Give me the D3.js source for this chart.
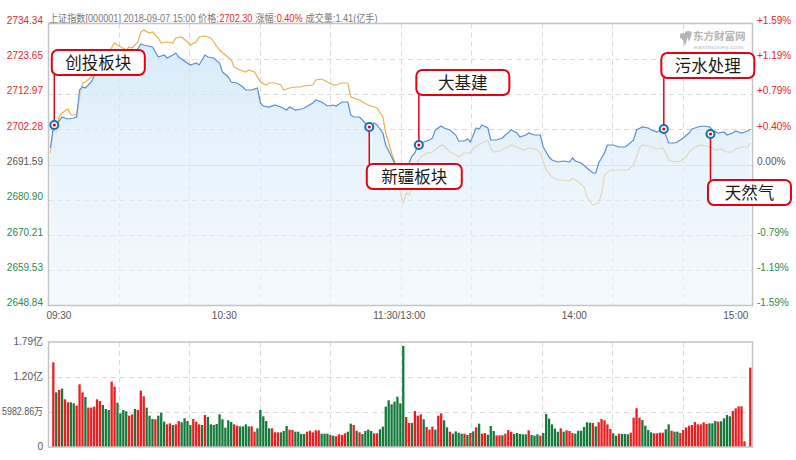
<!DOCTYPE html>
<html><head><meta charset="utf-8">
<script src="https://cdn.jsdelivr.net/npm/d3@7/dist/d3.min.js"></script>
<style>body{margin:0;background:#fff;}svg{display:block;font-family:"Liberation Sans",Arial,"Noto Sans CJK SC",sans-serif;}</style>
</head><body>
<svg id="c" width="796" height="460"></svg>
<script>
// ---------- data ----------
const prevClose = 2691.59;
const priceTicks = [2734.34, 2723.65, 2712.97, 2702.28, 2691.59, 2680.90, 2670.21, 2659.53, 2648.84];
const pctLabels  = ["+1.59%", "+1.19%", "+0.79%", "+0.40%", "0.00%", "", "-0.79%", "-1.19%", "-1.59%"];
const timeIdx    = [0, 60, 120, 180, 240];
const timeText   = ["09:30", "10:30", "11:30/13:00", "14:00", "15:00"];

// index price (minute index 0..240, value)
const priceIdx = [0,1,2,3,4,6,8,9,10,11,12,14,16,18,20,22,25,27,28,30,31,32,35,37,39,40,42,43,44,48,50,51,53,54,56,58,59,61,62,64,66,67,69,71,72,73,75,77,79,81,82,84,86,87,90,91,93,95,97,98,100,102,103,104,106,107,109,111,112,114,115,117,118,119,120,121,122,123,124,125,126,128,130,131,132,134,135,137,139,140,142,143,144,146,147,148,150,151,153,155,156,158,160,161,163,164,166,168,169,171,172,174,176,178,179,180,182,184,186,187,188,190,191,193,195,197,198,200,201,203,205,206,208,210,211,212,214,215,217,219,220,222,224,226,227,229,231,232,234,235,237,239,240];
const priceVal = [2696.59,2702.96,2703.87,2704.78,2705.99,2705.39,2705.69,2705.99,2714.18,2715.09,2714.78,2716.60,2720.24,2721.76,2723.88,2725.70,2723.88,2724.79,2724.49,2726.61,2728.13,2727.82,2727.22,2724.18,2724.79,2723.88,2724.79,2725.40,2724.18,2721.76,2722.36,2721.76,2724.79,2724.18,2723.88,2722.36,2719.64,2718.12,2716.60,2716.30,2715.09,2714.18,2714.18,2714.78,2710.24,2709.33,2709.02,2709.63,2709.02,2708.11,2709.02,2708.11,2708.42,2708.72,2710.24,2711.15,2710.54,2709.33,2709.63,2709.33,2710.54,2710.54,2706.60,2705.99,2705.99,2705.08,2702.96,2704.17,2703.57,2701.14,2697.50,2693.86,2692.05,2690.83,2689.92,2689.32,2690.53,2692.05,2694.17,2695.08,2697.50,2698.41,2699.02,2699.63,2702.05,2703.26,2702.66,2702.05,2700.53,2698.72,2698.72,2699.32,2698.41,2702.66,2702.35,2703.57,2702.66,2699.02,2699.02,2699.63,2700.53,2702.05,2701.14,2699.93,2700.53,2701.14,2700.53,2700.53,2696.90,2693.86,2692.96,2692.35,2692.65,2692.35,2693.56,2692.65,2692.05,2690.53,2689.01,2689.01,2692.05,2695.08,2697.50,2697.50,2696.90,2696.90,2697.50,2699.02,2702.05,2702.96,2702.66,2702.05,2701.44,2702.35,2700.53,2698.11,2698.11,2698.41,2699.63,2701.14,2702.35,2702.96,2703.26,2702.96,2702.05,2701.14,2701.44,2700.53,2701.14,2701.75,2701.14,2701.75,2702.30];

// leading line
const leadIdx = [0,1,2,3,4,6,7,9,11,12,14,16,18,20,22,23,26,27,28,30,31,32,34,35,37,38,40,42,43,45,47,48,50,51,53,55,56,58,60,62,63,65,67,68,70,72,74,75,77,79,80,82,84,86,87,90,91,93,95,97,98,100,102,103,106,107,109,111,112,114,115,117,119,120,121,122,123,124,125,126,127,129,131,134,135,137,139,140,142,144,145,148,150,151,152,154,156,158,160,162,163,165,167,168,170,172,174,176,178,179,181,183,184,186,188,189,190,192,194,196,198,200,202,203,205,207,208,210,211,212,214,216,218,219,221,223,225,227,228,230,232,234,235,237,239,240];
const leadVal = [2695.08,2702.05,2701.44,2705.99,2707.21,2708.42,2706.60,2706.60,2716.30,2716.60,2718.12,2720.24,2722.67,2725.70,2728.43,2727.82,2726.31,2727.22,2726.91,2728.73,2731.76,2732.37,2731.46,2731.76,2729.94,2728.43,2728.73,2728.43,2729.94,2730.25,2728.73,2727.82,2728.73,2730.25,2730.55,2729.94,2728.73,2726.31,2724.79,2723.27,2721.15,2720.24,2719.64,2720.24,2719.64,2716.60,2715.69,2716.30,2716.30,2715.69,2714.18,2714.78,2715.09,2715.09,2715.39,2715.69,2717.21,2717.51,2716.60,2715.69,2715.69,2716.30,2716.30,2712.06,2711.15,2710.54,2709.63,2709.02,2708.72,2705.99,2701.14,2695.08,2689.92,2682.95,2679.92,2682.95,2682.34,2684.77,2689.32,2692.35,2693.86,2695.08,2695.38,2697.50,2697.20,2695.38,2694.47,2693.86,2695.08,2695.08,2696.59,2698.11,2699.02,2696.59,2695.38,2695.68,2696.59,2697.50,2696.90,2695.99,2696.29,2696.59,2695.99,2695.08,2689.92,2687.80,2686.89,2686.89,2686.59,2687.50,2686.28,2684.77,2681.74,2679.31,2679.92,2682.95,2688.41,2689.92,2689.92,2689.92,2689.92,2691.44,2696.59,2697.50,2697.20,2696.59,2696.29,2696.59,2695.08,2692.96,2692.35,2692.65,2693.86,2695.38,2696.90,2697.50,2697.20,2696.59,2695.99,2696.29,2695.38,2695.38,2696.29,2696.90,2696.90,2698.11];

// volume per minute (亿), and direction (1 = red/up, 0 = green/down)
const volume = [0,1.443,0.932,0.972,0.995,0.813,0.762,0.762,0.745,0.705,1.068,0.932,0.852,0.671,0.671,0.688,0.813,0.784,0.716,0.648,0.631,1.114,1.029,0.756,0.574,0.631,0.608,0.534,0.557,0.648,0.631,0.960,0.864,0.671,0.534,0.477,0.472,0.534,0.585,0.432,0.386,0.403,0.375,0.386,0.443,0.421,0.489,0.443,0.375,0.477,0.432,0.386,0.375,0.546,0.511,0.386,0.375,0.392,0.557,0.472,0.330,0.455,0.426,0.386,0.364,0.352,0.352,0.386,0.352,0.352,0.261,0.318,0.631,0.523,0.443,0.318,0.318,0.250,0.250,0.250,0.273,0.358,0.296,0.290,0.261,0.261,0.222,0.222,0.261,0.278,0.250,0.284,0.284,0.227,0.227,0.227,0.205,0.193,0.182,0.216,0.205,0.233,0.261,0.398,0.375,0.278,0.250,0.222,0.273,0.296,0.273,0.233,0.233,0.301,0.347,0.688,0.796,0.727,0.773,0.858,0.745,1.722,0.511,0.409,0.409,0.614,0.534,0.557,0.472,0.341,0.296,0.347,0.296,0.534,0.574,0.455,0.335,0.261,0.227,0.267,0.244,0.227,0.227,0.205,0.239,0.267,0.335,0.398,0.227,0.239,0.210,0.358,0.273,0.199,0.199,0.199,0.227,0.290,0.261,0.222,0.239,0.222,0.216,0.216,0.284,0.205,0.193,0.216,0.193,0.239,0.563,0.483,0.386,0.313,0.261,0.318,0.261,0.284,0.273,0.239,0.227,0.278,0.278,0.341,0.421,0.415,0.409,0.352,0.421,0.477,0.455,0.386,0.307,0.233,0.193,0.227,0.222,0.222,0.216,0.244,0.500,0.659,0.500,0.460,0.364,0.290,0.250,0.233,0.233,0.244,0.244,0.301,0.386,0.278,0.261,0.261,0.239,0.290,0.335,0.364,0.375,0.426,0.386,0.386,0.421,0.392,0.403,0.403,0.443,0.432,0.438,0.489,0.546,0.523,0.614,0.659,0.693,0.693,0.097,0,1.353];
const volUp = [1,1,0,1,0,1,1,0,0,1,1,1,0,1,1,1,1,1,0,0,0,1,1,0,0,0,0,1,1,0,1,1,1,0,0,0,1,0,0,0,1,1,0,1,1,0,0,0,0,1,1,1,0,1,0,0,0,0,0,0,0,0,0,1,1,0,0,0,0,1,1,0,0,0,0,0,1,1,1,0,0,0,1,1,0,0,0,0,1,1,1,1,1,0,0,0,1,0,1,1,1,1,0,0,1,0,1,0,0,0,0,1,1,0,0,0,0,0,0,0,0,0,1,1,0,1,1,1,0,1,1,1,0,1,1,0,0,1,0,0,0,0,1,0,1,0,1,0,1,1,0,0,0,1,1,0,1,1,1,0,0,0,0,0,1,0,0,0,1,0,0,0,0,0,0,1,0,1,1,1,0,0,0,0,0,0,1,0,1,1,1,1,1,0,0,1,0,0,0,1,1,1,1,0,0,0,0,1,1,1,1,0,0,1,0,0,1,1,1,1,1,1,1,1,1,1,0,0,0,1,0,0,0,0,1,1,1,1,1,1,1];
const volTicks = [1.79, 1.1933, 0.5967, 0];
const volText  = ["1.79亿", "1.20亿", "5982.86万", "0"];

// annotations
const annoName  = ["创投板块", "新疆板块", "大基建", "污水处理", "天然气"];
const annoIdx   = [1, 109, 126, 210, 226];
const annoPrice = [2703.57, 2702.96, 2697.50, 2702.35, 2700.84];

// header pieces
const headerText  = ["上证指数[000001] 2018-09-07 15:00 价格:", "2702.30", " 涨幅:", "0.40%", " 成交量:1.41(亿手)"];
const headerRed   = [0, 1, 0, 1, 0];

// ---------- layout ----------
const svg = d3.select("#c");
const L = 48, R = 753, T = 23.5, B = 305.5, VT = 342, VB = 447;
const x  = d3.scaleLinear().domain([0, 240]).range([50.4, 750.3]);
const gx = d3.scaleLinear().domain([0, 10]).range([L, R]);
const y  = d3.scaleLinear().domain([priceTicks[8], priceTicks[0]]).range([B, T]);
const vy = d3.scaleLinear().domain([0, 1.79]).range([VB, VT]);
const RED = "#e8232a", GREEN = "#2a8a4e", GRAY = "#555";
const colorFor = p => p > prevClose + 0.001 ? RED : (p < prevClose - 0.001 ? GREEN : GRAY);

const defs = svg.append("defs");
const grad = defs.append("linearGradient").attr("id", "fillG")
  .attr("gradientUnits", "userSpaceOnUse").attr("x1", 0).attr("x2", 0).attr("y1", T).attr("y2", B);
grad.append("stop").attr("offset", "0").attr("stop-color", "#c9e5f8").attr("stop-opacity", 0.8);
grad.append("stop").attr("offset", "0.5").attr("stop-color", "#dcedfa").attr("stop-opacity", 0.62);
grad.append("stop").attr("offset", "1").attr("stop-color", "#eef6fd").attr("stop-opacity", 0.6);

// header: separate texts laid out in sequence, then squeezed to the reference width
const hg = svg.append("g");
let cx = 0;
headerText.forEach((t, i) => {
  const el = hg.append("text").attr("x", cx).attr("y", 22).attr("font-size", 10.5)
    .attr("fill", headerRed[i] ? RED : "#777").style("white-space", "pre").attr("xml:space", "preserve").text(t);
  cx += el.node().getComputedTextLength() + 0.5;
});
hg.attr("transform", `translate(49,0) scale(${329 / cx},1)`);

// price grid
const gridH = svg.append("g");
priceTicks.slice(1, -1).forEach(p => {
  gridH.append("line").attr("x1", L).attr("x2", R).attr("y1", Math.round(y(p)) + 0.5).attr("y2", Math.round(y(p)) + 0.5)
    .attr("stroke", p === prevClose ? "#d6d6d6" : "#dadada")
    .attr("stroke-dasharray", p === prevClose ? null : "5,4");
});
d3.range(1, 10).forEach(k => {
  gridH.append("line").attr("x1", Math.round(gx(k)) + 0.5).attr("x2", Math.round(gx(k)) + 0.5)
    .attr("y1", T).attr("y2", B).attr("stroke", "#dadada").attr("stroke-dasharray", "5,4");
});

// lead line (under fill)
const leadPts = leadIdx.map((d, i) => [d, leadVal[i]]);
const pricePts = priceIdx.map((d, i) => [d, priceVal[i]]);
svg.append("path").datum(leadPts)
  .attr("d", d3.line().x(d => x(d[0])).y(d => y(d[1])))
  .attr("fill", "none").attr("stroke", "#e6b24e").attr("stroke-width", 1.2);
svg.append("path").datum(pricePts)
  .attr("d", d3.area().x(d => x(d[0])).y0(B).y1(d => y(d[1])))
  .attr("fill", "url(#fillG)");
svg.append("path").datum(pricePts)
  .attr("d", d3.line().x(d => x(d[0])).y(d => y(d[1])))
  .attr("fill", "none").attr("stroke", "#5a8ed0").attr("stroke-width", 1.2);

// frame
svg.append("rect").attr("x", L + 0.5).attr("y", T).attr("width", R - L - 1).attr("height", B - T)
  .attr("fill", "none").attr("stroke", "#c4c4c4").attr("stroke-width", 1.5);

// axis labels
priceTicks.forEach((p, i) => {
  svg.append("text").attr("x", 43).attr("y", y(p) + 0.5).attr("text-anchor", "end")
    .attr("font-size", 10).attr("fill", colorFor(p)).text(p.toFixed(2));
  if (pctLabels[i]) svg.append("text").attr("x", 757).attr("y", y(p) + 0.5)
    .attr("font-size", 10).attr("fill", colorFor(p)).text(pctLabels[i]);
});
timeIdx.forEach((t, i) => {
  const anchor = i === 0 ? "start" : (i === timeIdx.length - 1 ? "end" : "middle");
  const xx = i === 0 ? x(t) - 4 : (i === timeIdx.length - 1 ? x(t) - 2 : x(t) - 1);
  svg.append("text").attr("x", xx).attr("y", 318.5).attr("text-anchor", anchor)
    .attr("font-size", 10).attr("fill", GRAY).text(timeText[i]);
});

// watermark
const wm = svg.append("g").attr("transform", "translate(678,29)").attr("fill", "#b5b5b5");
wm.append("path").attr("d", "M2,5 C6,3 9,4 10,7 L7,17 C6,13 5,10 2,9 Z M7,3 C10,1 13,2 14,4 L11,13 C10,9 9,6 7,5 Z");
wm.append("text").attr("x", 15).attr("y", 11).attr("font-size", 10.5).attr("font-weight", "bold")
  .attr("font-family", "Noto Sans CJK SC").text("东方财富网");
wm.append("text").attr("x", 16).attr("y", 20).attr("font-size", 6.2).attr("letter-spacing", 0.5).text("eastmoney.com");

// annotations
const labelTop = [50, 164, 70, 53, 180];
const labelW   = [93, 95, 93, 93, 83];
annoName.forEach((n, i) => {
  const mx = x(annoIdx[i]) + 1, my = y(annoPrice[i]);
  const top = labelTop[i], bx = mx - 2.5, h = 25;
  const ly = top < my ? top + h : top;
  svg.append("line").attr("x1", mx).attr("x2", mx).attr("y1", my).attr("y2", ly)
    .attr("stroke", "#e60012").attr("stroke-width", 1.5);
  svg.append("rect").attr("x", bx).attr("y", top).attr("width", labelW[i]).attr("height", h)
    .attr("rx", 6).attr("fill", "#fff").attr("stroke", "#e60012").attr("stroke-width", 2);
  svg.append("text").attr("x", bx + labelW[i] / 2).attr("y", top + h / 2 + 6).attr("text-anchor", "middle")
    .attr("font-family", "Noto Sans CJK SC").attr("font-size", 16.5).attr("fill", "#1a1a1a").text(n);
  svg.append("circle").attr("cx", mx).attr("cy", my).attr("r", 5).attr("fill", "#1a6eaa");
  svg.append("circle").attr("cx", mx).attr("cy", my).attr("r", 3).attr("fill", "#fff");
  svg.append("circle").attr("cx", mx).attr("cy", my).attr("r", 1.6).attr("fill", "#e60012");
});

// volume chart
const vg = svg.append("g");
volTicks.slice(1, -1).forEach(v => {
  vg.append("line").attr("x1", L).attr("x2", R).attr("y1", Math.round(vy(v)) + 0.5).attr("y2", Math.round(vy(v)) + 0.5)
    .attr("stroke", "#dadada").attr("stroke-dasharray", "5,4");
});
d3.range(1, 10).forEach(k => {
  vg.append("line").attr("x1", Math.round(gx(k)) + 0.5).attr("x2", Math.round(gx(k)) + 0.5)
    .attr("y1", VT).attr("y2", VB).attr("stroke", "#dadada").attr("stroke-dasharray", "5,4");
});
vg.selectAll("rect.bar").data(volume).join("rect").attr("class", "bar")
  .attr("x", (d, i) => x(i) - 1.15).attr("width", 2.3)
  .attr("y", d => vy(d)).attr("height", d => VB - vy(d))
  .attr("fill", (d, i) => volUp[i] ? "#ee1c1f" : "#137a3a");
vg.append("rect").attr("x", L + 0.5).attr("y", VT).attr("width", R - L - 1).attr("height", VB - VT)
  .attr("fill", "none").attr("stroke", "#c4c4c4").attr("stroke-width", 1.5);
volTicks.forEach((v, i) => {
  const t = vg.append("text").attr("x", 43).attr("y", vy(v) + 3).attr("text-anchor", "end")
    .attr("font-size", 10).attr("fill", GRAY).text(volText[i]);
  const w = t.node().getComputedTextLength();
  if (w > 41) t.attr("textLength", 41).attr("lengthAdjust", "spacingAndGlyphs");
});
</script>
</body></html>
